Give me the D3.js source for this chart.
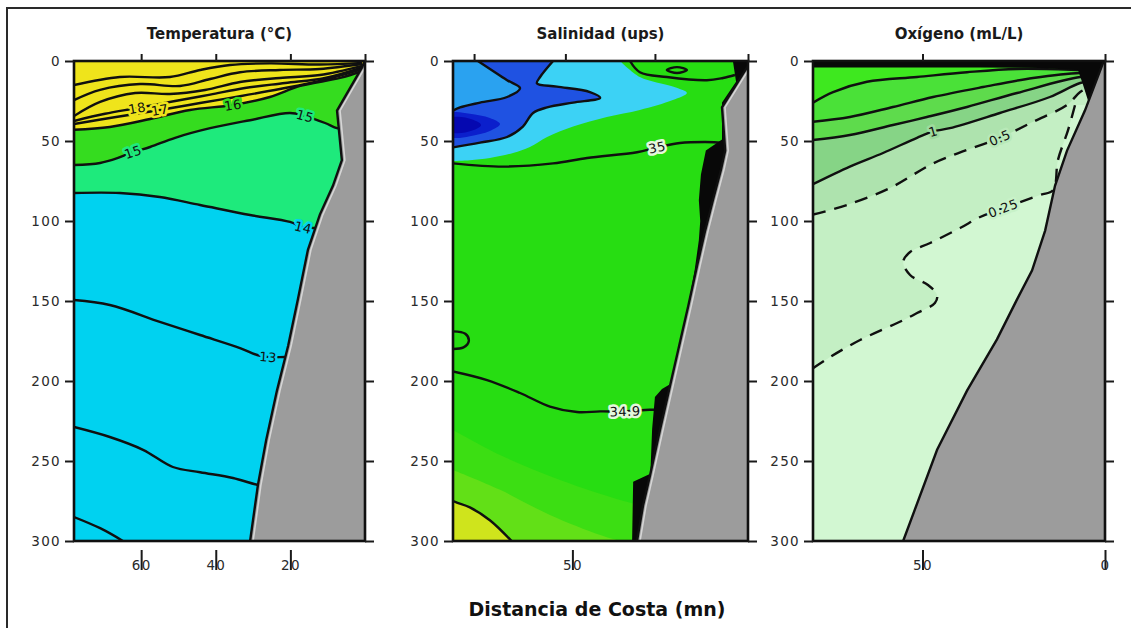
<!DOCTYPE html>
<html>
<head>
<meta charset="utf-8">
<script src="https://cdn.jsdelivr.net/npm/d3@7"></script>
<style>
  body { margin: 0; background: #fff; }
  text { font-family: "DejaVu Sans", "Liberation Sans", sans-serif; }
</style>
</head>
<body>
<div id="chart"></div>
<script>
const width = 1131;
const height = 628;
const plotTop = 61, plotBottom = 541;

// shared depth axis (m)
const depthMax = 300;
const depthTicks = [0, 50, 100, 150, 200, 250, 300];

// ---- Temperatura: isotherms as [distance (mn), depth (m)] ----
const tempMaxDist = 78;
const tempDistTicks = [60, 40, 20];
const tempStations = [60, 40, 20, 0];
const tempIsoA = [[78,15],[65.7,10],[52.3,10],[44.2,5.6],[36.2,2.5],[25.5,1.5],[12.1,2.2],[0.8,1.2]];
const tempIsoB = [[78,24.4],[71,18],[60.3,14.4],[49.6,15.6],[41.5,11.25],[33.5,7],[22.8,5.6],[12.1,5],[0.8,1.9]];
const tempIsoC = [[78,34.4],[71,25.6],[61.6,20],[52.3,20.6],[42.9,18.1],[33.5,13.1],[22.8,10.6],[12.1,8.75],[0.8,3]];
const temp18 = [[78,37.5],[69.7,33],[61.1,29.4],[50.9,25],[41.5,21],[32.2,16.9],[21.4,13.75],[10.7,10.6],[0.8,4]];
const temp17 = [[78,39.4],[68.4,35.6],[55,30.6],[44.2,26.25],[33.5,22],[22.8,17.5],[12.1,12.5],[0.8,5]];
const temp16 = [[78,43],[68.4,41.25],[57.6,36.25],[46.9,30.6],[35.4,27.5],[25.5,22.5],[17.4,15.6],[6.7,10.6],[0.8,6.25]];
const temp15 = [[78,65],[71,63.75],[66.2,60.6],[62.2,56.9],[57.6,53.75],[50.9,48],[41.5,42],[30.8,37],[20.1,32.5],[16.1,34.4],[10.7,38.75],[7.5,42],[5.4,43]];
const temp14 = [[78,82.5],[65.7,82.5],[55,85],[44.2,90],[30.8,96.25],[20.1,100.6],[16.6,104],[13.4,104.4],[10.7,105]];
const temp13 = [[78,149.4],[68.4,152.5],[55,163],[44.2,171.25],[33.5,179.4],[28.9,183.75],[26,185],[21.4,185],[18,185]];
const temp125 = [[78,228.75],[68.4,235],[59.5,243],[51.5,253.75],[44.2,257],[35.4,260.6],[28.7,265],[25.5,266]];
const temp12 = [[78,285],[71,292],[64.9,300],[61,306]];
const tempBottom = [[0,0],[0.3,1],[0.8,4],[7.5,31],[6.2,62],[8.6,78],[12.1,96],[15.3,118],[18,149],[20.6,178],[23.6,206],[26.5,237],[28.7,265],[30.8,300]];

// ---- Salinidad ----
const salMaxDist = 84;
const salDistTicks = [50];
const salStations = [78, 52, 26.5, 0];
const salPocket = [[76.9,0],[68.6,12],[64.9,17],[68.6,22.5],[76.3,26],[82,29],[84,31]];
const salBlue = [[55.5,0],[59.2,10],[60.1,14],[54.4,16],[45,19.4],[42.1,23],[49.8,26],[57.2,29],[61.2,32.5],[64.1,41],[68.6,47.5],[76.3,51],[84,54]];
const salCyan = [[36.4,0],[30.8,10],[21.4,16],[17.4,20],[21.4,24.4],[30.8,30.6],[40.2,35],[49.8,41],[57.2,47.5],[62.1,53.75],[66.9,57.5],[73.5,60.6],[79.2,62],[84,62.5]];
const salCore = [[84,32],[79.2,33],[73.5,35.6],[70.6,39.4],[73.5,43.75],[79.2,47],[84,48],[88,44],[88,36]];
const salCoreDeep = [[84,35],[78.5,36.5],[76,40],[78.5,43.5],[84,45],[88,40]];
const sal35 = [[84,64],[69.8,66],[55.5,64],[45.8,60.6],[31.6,57],[25.9,54],[19.4,51.25],[12.2,50.6],[7.9,51],[4,51]];
const sal349 = [[84,194],[74.3,199.4],[64.9,207.5],[56.4,216],[48.7,219.4],[42.1,219],[35,219],[28,218],[24,218]];
const salLoop = [[84,169],[80.5,170.5],[79.5,175],[81,179],[84,180]];
const salTopRight = [[33.6,0],[30.8,7],[23.1,10],[11.7,12],[7.1,10.6],[3.7,8.75]];
const salRing = [[23.1,5.6],[20.2,3.8],[17.4,5.6],[20.2,7.5]];
const salBand1 = [[84,230.6],[70.6,246.25],[53.5,261.9],[36.4,274.4],[30.8,277.5]];
const salBand2 = [[84,255.6],[70.6,268],[56.4,283.75],[42.1,296.25],[36.4,300]];
const salDeep = [[84,275],[82.9,276],[79.2,279],[73.5,287],[66.9,301]];
const salVoid = [[4.3,0],[3.4,13],[7.4,26],[7.4,49],[12,56],[13.4,71],[14,87],[13.6,100],[14,112],[15.2,131],[17.3,156],[19.9,181],[22.2,202],[24.5,205],[26.5,210],[27.3,230],[27.8,258],[32.7,263],[33,300]];
const salBottom = [[0,0],[0,3],[7.4,29],[6.5,56],[7.7,68],[10,87],[12.2,106],[14.5,128],[17,153],[19.6,178],[22.2,203],[25.1,231],[27.9,259],[29.9,278],[31.6,300]];

// ---- Oxigeno ----
const oxyMaxDist = 80;
const oxyDistTicks = [50, 0];
const oxyStations = [50, 0];
const oxyA = [[80,26],[74.5,19.4],[65.2,13],[51.5,10],[37.8,7],[24.1,5],[6.8,5.6],[2,6]];
const oxyB = [[80,38],[69.9,35],[58.1,28.75],[47.1,22.5],[33.4,16.25],[19.7,10.6],[6.8,7.5],[2,8]];
const oxyC = [[80,49.4],[69.9,46.25],[58.1,40],[48.8,35],[37.8,28.75],[24.1,20],[6.8,10],[2,10]];
const oxy1 = [[80,77],[69.9,66],[60.8,57.5],[51.5,48],[47.1,44],[42.5,42],[28.8,32.5],[15.1,22.5],[6.8,13.75],[2,12]];
const oxy05 = [[80,96],[70.7,90],[58.9,79.4],[47.1,64],[37.8,55.6],[28.8,48],[19.7,38],[10.4,27.5],[6.8,19.4],[3,15]];
const oxy025 = [[80,192],[75.3,185],[67.1,174.4],[55.3,162],[51.5,157.5],[46.6,151.25],[46,146.25],[48.5,140],[53.4,133.75],[55.3,125.6],[53.4,119.4],[47.9,113.75],[39.7,104.4],[34.2,97.5],[27.9,92],[17.8,83.75],[14.2,80.6],[12.9,62],[10.1,43],[8.2,27.5]];
const oxyVoid = [[80,4],[56.2,4],[34.2,4],[17.8,4.4],[7.4,5.6],[6,15],[4.7,24.4],[3.5,30]];
const oxyBottom = [[0,0],[0.5,1],[5.5,31],[10.4,56],[13.7,78],[16.4,106],[20,131],[24.1,149],[29.6,174],[37.8,206],[46,243],[55.3,300]];

const panels = [
  {
    title: "Temperatura (°C)", left: 74, right: 365, dMax: tempMaxDist,
    xTicks: tempDistTicks, stations: tempStations, base: "#00d2f0", highlight: true,
    fills: [
      {pts: temp14, side: "above", color: "#1eea7c"},
      {pts: temp15, side: "above", color: "#35dc1f"},
      {pts: temp16, side: "above", color: "#efe41b"}
    ],
    blobs: [],
    lines: [tempIsoA, tempIsoB, tempIsoC, temp18, temp17, temp16, temp15, temp14, temp13, temp125, temp12].map(pts => ({pts})),
    labels: [["18", temp18, 2, "#efe41b"], ["17", temp17, 2, "#efe41b"], ["16", temp16, 4, "#35dc1f"],
             ["15", temp15, 3, "#1eea7c"], ["15", temp15, 9, "#1eea7c"], ["14", temp14, 6, "#00d2f0"], ["13", temp13, 6, "#00d2f0"]],
    bottom: tempBottom
  },
  {
    title: "Salinidad (ups)", left: 453, right: 748, dMax: salMaxDist,
    xTicks: salDistTicks, stations: salStations, base: "#27dd12", highlight: true,
    fills: [
      {pts: salBand1, side: "below", color: "#3cde13"},
      {pts: salBand2, side: "below", color: "#62e017"},
      {pts: salDeep, side: "below", color: "#cfe41c"},
      {pts: salCyan, side: "above", color: "#3cd2f5"},
      {pts: salBlue, side: "above", color: "#1f52e2"},
      {pts: salPocket, side: "above", color: "#2aa2f0"}
    ],
    blobs: [{pts: salCore, color: "#0b1fcc"}, {pts: salCoreDeep, color: "#0508b0"}],
    lines: [salPocket, salBlue, sal35, sal349, salLoop, salTopRight, salDeep].map(pts => ({pts})).concat([{pts: salRing, closed: true}]),
    labels: [["35", sal35, 5, "#e4f7dc"], ["34.9", sal349, 6, "#e4f7dc"]],
    voidEdge: salVoid, voidSide: "right",
    bottom: salBottom
  },
  {
    title: "Oxígeno (mL/L)", left: 813, right: 1105, dMax: oxyMaxDist,
    xTicks: oxyDistTicks, stations: oxyStations, base: "#d2f7d2", highlight: false,
    fills: [
      {pts: oxy025, side: "above", color: "#c4efc4"},
      {pts: oxy05, side: "above", color: "#aee3ae"},
      {pts: oxy1, side: "above", color: "#86d486"},
      {pts: oxyC, side: "above", color: "#5edb4c"},
      {pts: oxyB, side: "above", color: "#4ae138"},
      {pts: oxyA, side: "above", color: "#3ee81f"}
    ],
    blobs: [],
    lines: [oxyA, oxyB, oxyC, oxy1].map(pts => ({pts})).concat([{pts: oxy05, dash: true}, {pts: oxy025, dash: true}]),
    labels: [["1", oxy1, 4, "#9edb9e"], ["0.5", oxy05, 5, "#b8e9b8"], ["0.25", oxy025, 14, "#c8f2c8"]],
    voidEdge: oxyVoid, voidSide: "above",
    bottom: oxyBottom
  }
];

const svg = d3.select("#chart").append("svg")
  .attr("width", width)
  .attr("height", height);

svg.append("rect").attr("width", width).attr("height", height).attr("fill", "#fff");

// page border (only top and left are inside the crop)
svg.append("path")
  .attr("d", `M${width},8H7V${height}`)
  .attr("fill", "none")
  .attr("stroke", "#2a2a2a")
  .attr("stroke-width", 2);

panels.forEach(function (p, i) {
  const x = d3.scaleLinear().domain([p.dMax, 0]).range([p.left, p.right]);
  const y = d3.scaleLinear().domain([0, depthMax]).range([plotTop, plotBottom]);

  const smooth = d3.line().x(d => x(d[0])).y(d => y(d[1])).curve(d3.curveCatmullRom.alpha(0.5));
  const smoothClosed = d3.line().x(d => x(d[0])).y(d => y(d[1])).curve(d3.curveCatmullRomClosed.alpha(0.5));
  const straight = d3.line().x(d => x(d[0])).y(d => y(d[1]));

  // close an open contour against the panel edges
  function close(pts, side) {
    const last = pts[pts.length - 1];
    const atRight = last[0] < p.dMax / 2;
    let c;
    if (side == "above") {
      c = atRight ? [[0, last[1]], [0, -5], [p.dMax, -5]] : [[p.dMax, -5]];
    } else if (side == "below") {
      c = atRight ? [[0, last[1]], [0, depthMax + 5], [p.dMax, depthMax + 5]] : [[p.dMax, depthMax + 5]];
    } else {
      c = [[0, depthMax + 5], [0, -5]];
    }
    return c.map(d => "L" + x(d[0]) + "," + y(d[1])).join("") + "Z";
  }

  svg.append("clipPath").attr("id", "clip" + i)
    .append("rect")
    .attr("x", p.left).attr("y", plotTop)
    .attr("width", p.right - p.left).attr("height", plotBottom - plotTop);

  const body = svg.append("g").attr("clip-path", `url(#clip${i})`);

  body.append("rect")
    .attr("x", p.left).attr("y", plotTop)
    .attr("width", p.right - p.left).attr("height", plotBottom - plotTop)
    .attr("fill", p.base);

  body.selectAll("path.band")
    .data(p.fills)
    .join("path")
    .attr("class", "band")
    .attr("d", f => smooth(f.pts) + close(f.pts, f.side))
    .attr("fill", f => f.color);

  body.selectAll("path.blob")
    .data(p.blobs)
    .join("path")
    .attr("class", "blob")
    .attr("d", b => smoothClosed(b.pts))
    .attr("fill", b => b.color);

  body.selectAll("path.iso")
    .data(p.lines)
    .join("path")
    .attr("class", "iso")
    .attr("d", l => l.closed ? smoothClosed(l.pts) : smooth(l.pts))
    .attr("fill", "none")
    .attr("stroke", "#101010")
    .attr("stroke-width", 2.4)
    .attr("stroke-dasharray", l => l.dash ? "13,9" : null);

  p.labels.forEach(function ([txt, pts, k, halo]) {
    const a = pts[k - 1], b = pts[k + 1], c = pts[k];
    let ang = Math.atan2(y(b[1]) - y(a[1]), x(b[0]) - x(a[0])) * 180 / Math.PI;
    ang = Math.max(-35, Math.min(35, ang));
    body.append("text")
      .attr("transform", `translate(${x(c[0])},${y(c[1])}) rotate(${ang})`)
      .attr("text-anchor", "middle")
      .attr("dy", "0.36em")
      .attr("font-size", 13)
      .attr("letter-spacing", "0.5px")
      .attr("fill", "#111")
      .attr("stroke", halo)
      .attr("stroke-width", 5)
      .attr("stroke-linejoin", "round")
      .attr("paint-order", "stroke")
      .text(txt);
  });

  if (p.voidEdge) {
    body.append("path")
      .attr("d", straight(p.voidEdge) + close(p.voidEdge, p.voidSide))
      .attr("fill", "#080808");
  }

  body.append("path")
    .attr("d", straight(p.bottom) + close(p.bottom, "right"))
    .attr("fill", "#9c9c9c");

  if (p.highlight) {
    body.append("path")
      .attr("d", straight(p.bottom))
      .attr("transform", "translate(3,0)")
      .attr("fill", "none")
      .attr("stroke", "#d6d6d6")
      .attr("stroke-width", 1.6);
  }

  body.append("path")
    .attr("d", straight(p.bottom))
    .attr("fill", "none")
    .attr("stroke", "#101010")
    .attr("stroke-width", 2.4);

  // frame
  svg.append("rect")
    .attr("x", p.left).attr("y", plotTop)
    .attr("width", p.right - p.left).attr("height", plotBottom - plotTop)
    .attr("fill", "none")
    .attr("stroke", "#101010")
    .attr("stroke-width", 2.6);

  // depth axis on the left
  const yAxis = svg.append("g")
    .attr("transform", `translate(${p.left},0)`)
    .call(d3.axisLeft(y).tickValues(depthTicks).tickSize(9).tickPadding(4));

  // plain ticks on the right
  const yRight = svg.append("g")
    .attr("transform", `translate(${p.right},0)`)
    .call(d3.axisRight(y).tickValues(depthTicks).tickSize(9).tickFormat(""));

  // stations along the top
  const xTop = svg.append("g")
    .attr("transform", `translate(0,${plotTop})`)
    .call(d3.axisTop(x).tickValues(p.stations).tickSize(7).tickFormat(""));

  // distance axis
  const xAxis = svg.append("g")
    .attr("transform", `translate(0,${plotBottom})`)
    .call(d3.axisBottom(x).tickValues(p.xTicks).tickSize(0).tickPadding(0));
  xAxis.selectAll(".tick line").attr("y1", 9).attr("y2", 29);
  xAxis.selectAll(".tick text").attr("y", 24).attr("dy", "0.35em");

  [yAxis, yRight, xTop, xAxis].forEach(function (ax) {
    ax.select(".domain").remove();
    ax.selectAll(".tick line").attr("stroke", "#1a1a1a").attr("stroke-width", 2);
    ax.selectAll(".tick text")
      .attr("fill", "#2a2a2a")
      .attr("font-size", 13.5)
      .attr("letter-spacing", "1.3px")
      .attr("font-family", "DejaVu Sans, sans-serif");
  });

  svg.append("text")
    .attr("x", (p.left + p.right) / 2)
    .attr("y", 39)
    .attr("text-anchor", "middle")
    .attr("font-size", 15)
    .attr("font-weight", "bold")
    .attr("fill", "#1a1a1a")
    .text(p.title);
});

svg.append("text")
  .attr("x", 597)
  .attr("y", 616)
  .attr("text-anchor", "middle")
  .attr("font-family", "Noto Sans, sans-serif")
  .attr("font-size", 19)
  .attr("font-weight", 600)
  .attr("fill", "#111")
  .text("Distancia de Costa (mn)");
</script>
</body>
</html>
